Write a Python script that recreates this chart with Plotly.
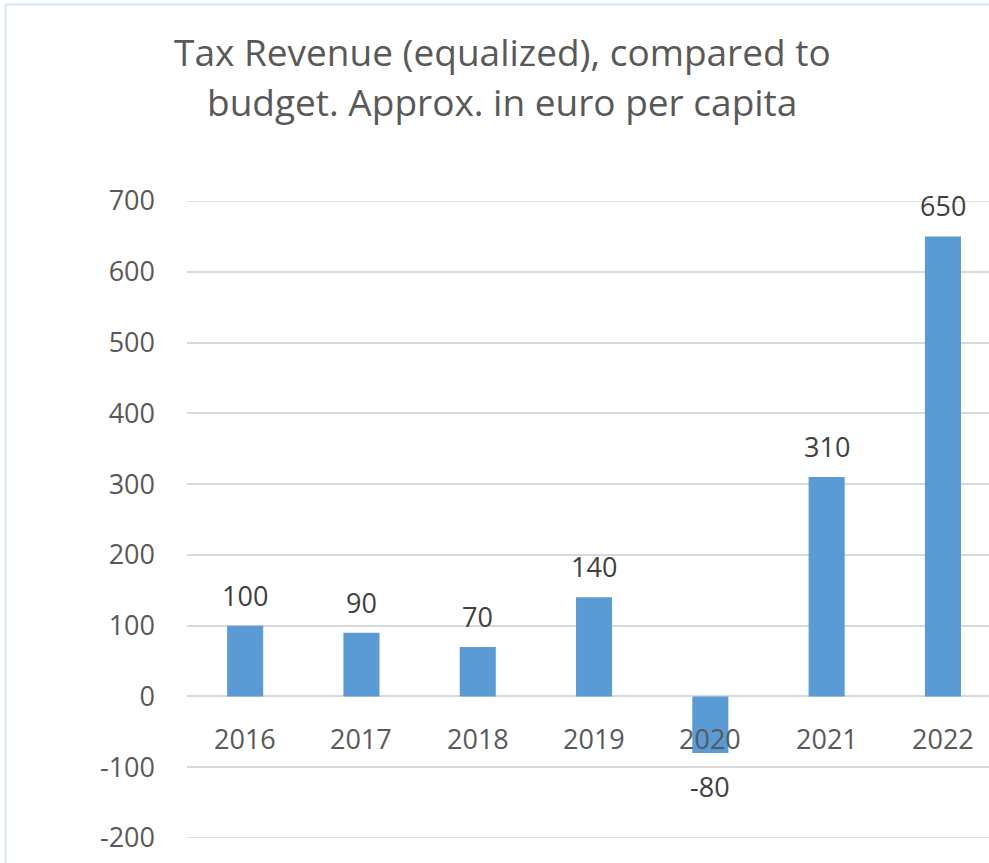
import plotly.graph_objects as go

years = ["2016", "2017", "2018", "2019", "2020", "2021", "2022"]
values = [100, 90, 70, 140, -80, 310, 650]
tick_vals = [-200, -100, 0, 100, 200, 300, 400, 500, 600, 700]
tick_text = ["-200", "-100", "0", "100", "200", "300", "400", "500", "600", "700"]
title_lines = ["Tax Revenue (equalized), compared to", "budget. Approx. in euro per capita"]

W, H = 989, 863
L, R, T, B = 187, 0, 201, 25
PW, PH = W - L - R, H - T - B
FONT = "Open Sans"
TXT = "#595959"
BAR = "#5B9BD5"
GRID = "#D9D9D9"


def px(X):
    return (X - L) / PW


def py(Y):
    return (H - B - Y) / PH


fig = go.Figure()
fig.add_trace(go.Bar(x=list(range(len(years))), y=values, width=0.31,
                     marker=dict(color=BAR, line=dict(width=0)),
                     hoverinfo="skip"))

ann = []
for i, (yr, v) in enumerate(zip(years, values)):
    ann.append(dict(x=i, y=0, xref="x", yref="y", text=yr, showarrow=False,
                    yanchor="top", yshift=-22,
                    font=dict(family=FONT, size=27, color=TXT)))
    if v >= 0:
        ann.append(dict(x=i, y=v, xref="x", yref="y", text=str(v), showarrow=False,
                        yanchor="bottom", yshift=10,
                        font=dict(family=FONT, size=27, color="#404040")))
    else:
        ann.append(dict(x=i, y=v, xref="x", yref="y", text=str(v), showarrow=False,
                        yanchor="top", yshift=-13,
                        font=dict(family=FONT, size=27, color="#404040")))

for line, yc in zip(title_lines, [51, 101]):
    ann.append(dict(x=px(502), y=py(yc), xref="paper", yref="paper", text=line,
                    showarrow=False, yanchor="middle", xanchor="center",
                    font=dict(family=FONT, size=37, color=TXT)))

shapes = [
    dict(type="line", xref="paper", yref="paper", x0=px(5.5), x1=px(5.5),
         y0=py(4.5), y1=py(870), line=dict(color="#D6E6F4", width=2), layer="below"),
    dict(type="line", xref="paper", yref="paper", x0=px(5.5), x1=px(1000),
         y0=py(4.5), y1=py(4.5), line=dict(color="#D6E6F4", width=2), layer="below"),
]
for gy in (tick_vals[0], tick_vals[-1]):
    shapes.append(dict(type="line", xref="paper", yref="y", x0=0, x1=1, y0=gy, y1=gy,
                       line=dict(color=GRID, width=1.5), layer="below"))

fig.update_layout(
    width=W, height=H,
    margin=dict(l=L, r=R, t=T, b=B, pad=0),
    paper_bgcolor="white", plot_bgcolor="white",
    showlegend=False,
    annotations=ann, shapes=shapes,
    xaxis=dict(range=[-0.5, -0.5 + PW / 116.3], showticklabels=False, showgrid=False,
               zeroline=False, showline=False, ticks=""),
    yaxis=dict(range=[-200, 700], tickvals=tick_vals, ticktext=tick_text,
               showgrid=True, gridcolor=GRID,
               gridwidth=1.5, zeroline=True, zerolinecolor=GRID, zerolinewidth=1.5,
               showline=False, ticks="", ticklabelstandoff=31,
               tickfont=dict(family=FONT, size=27, color=TXT)),
)

fig.write_html("out.html")
